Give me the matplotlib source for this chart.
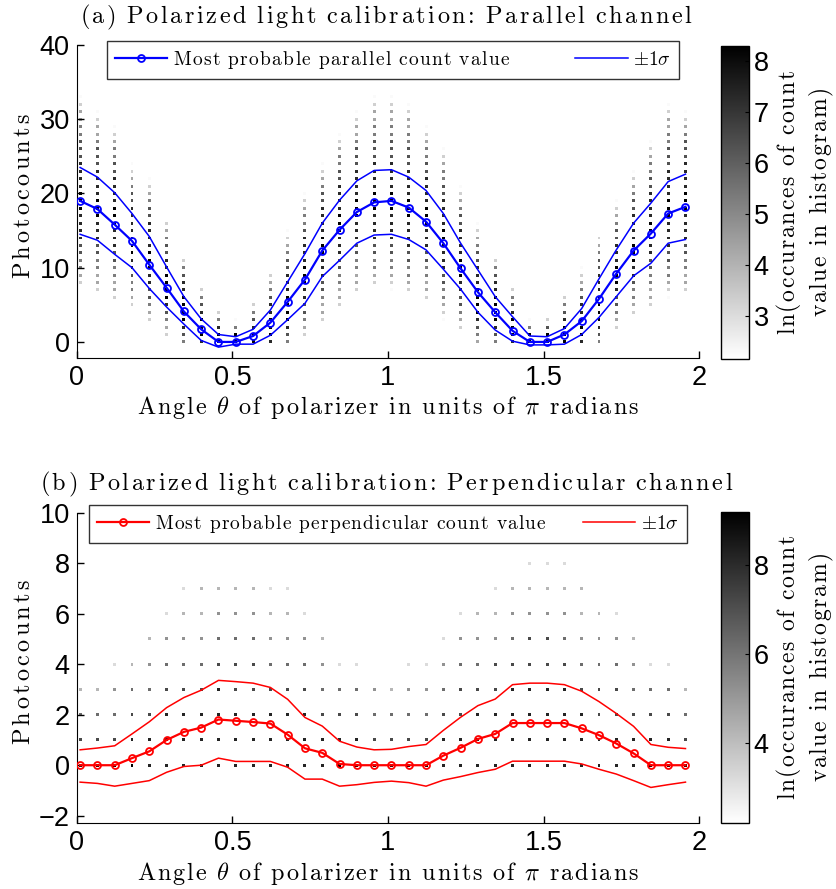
import numpy as np
import matplotlib
matplotlib.use("Agg")
import matplotlib.pyplot as plt

plt.rcParams['mathtext.fontset'] = 'cm'
plt.rcParams['font.family'] = ['Liberation Sans', 'DejaVu Sans']

#####################################################################
# data
angle_deg = [2, 12, 22, 32, 42, 52, 62, 72, 82, 92, 102, 112,
             122, 132, 142, 152, 162, 172, 182, 192, 202, 212, 222, 232,
             242, 252, 262, 272, 282, 292, 302, 312, 322, 332, 342, 352]

par_mode = [19.0, 17.9, 15.8, 13.6, 10.4, 7.3, 4.1, 1.7, 0.0, 0.0, 0.8, 2.6,
            5.4, 8.4, 12.3, 15.1, 17.5, 18.8, 19.0, 18.1, 16.2, 13.3, 9.9, 6.7,
            4.0, 1.5, 0.0, 0.0, 1.0, 2.8, 5.8, 9.2, 12.3, 14.6, 17.3, 18.2]
par_upper = [23.5, 22.2, 20.1, 17.3, 14.2, 10.1, 6.1, 3.1, 1.0, 0.7, 1.7, 4.3,
             8.1, 11.9, 16.0, 19.1, 21.7, 23.1, 23.2, 22.2, 20.4, 17.3, 13.3, 9.7,
             6.1, 3.4, 0.8, 0.7, 1.8, 4.5, 8.5, 12.4, 16.0, 18.7, 21.6, 22.6]
par_lower = [14.5, 13.7, 11.8, 10.0, 7.2, 4.7, 2.4, 0.2, -0.7, -0.3, -0.3, 0.9,
             3.0, 5.2, 8.8, 11.0, 13.3, 14.4, 14.5, 13.8, 12.4, 9.8, 7.1, 4.0,
             1.6, 0.1, -0.4, -0.4, -0.3, 1.0, 3.3, 6.1, 8.9, 10.6, 13.3, 13.8]

perp_mode = [0, 0, 0, 0.28, 0.55, 1.0, 1.32, 1.49, 1.81, 1.76, 1.71, 1.65,
             1.21, 0.67, 0.49, 0.05, 0, 0, 0, 0, 0, 0.38, 0.69, 1.04,
             1.24, 1.67, 1.67, 1.67, 1.67, 1.46, 1.19, 0.86, 0.47, 0, 0, 0]
perp_upper = [0.61, 0.68, 0.77, 1.24, 1.72, 2.28, 2.68, 2.97, 3.36, 3.31, 3.25, 3.08,
              2.61, 1.89, 1.55, 0.95, 0.72, 0.61, 0.63, 0.74, 0.82, 1.38, 1.9, 2.36,
              2.62, 3.19, 3.25, 3.25, 3.19, 2.93, 2.52, 2.05, 1.54, 0.82, 0.71, 0.66]
perp_lower = [-0.67, -0.72, -0.83, -0.72, -0.61, -0.28, -0.05, 0.0, 0.28, 0.15, 0.15, 0.15,
              -0.08, -0.55, -0.55, -0.83, -0.77, -0.68, -0.63, -0.69, -0.83, -0.59, -0.45, -0.29,
              -0.16, 0.16, 0.16, 0.16, 0.16, 0.05, -0.16, -0.35, -0.61, -0.88, -0.77, -0.67]

# histogram cells: lowest count per angle and ln(occurrences) digits going up
par_lo = [8, 7, 6, 5, 3, 1, 0, 0, 0, 0, 0, 0,
          0, 1, 3, 5, 7, 8, 7, 7, 6, 3, 2, 0,
          0, 0, 0, 0, 0, 0, 0, 2, 4, 5, 6, 7]
par_hist = ["34556677778887777666554432", "3445566777888777766654432",
            "344556677788877776655432", "34556778887777665432",
            "34566778887777665432", "3456788887766543",
            "567888877653", "78887653", "88753", "8852", "887653",
            "7888776543", "5678888777665432", "34566778887777655432",
            "3445667778887777665432", "344556677788877776655432",
            "3445566777888777766654432", "34556677778887777666554432",
            "234556677778887777666554432", "34556677778887777666554432",
            "344556677788877776655432", "234556677788877776655432",
            "34566778887777665432", "45678888777665432",
            "567888877653", "78887653", "8852", "8863", "8887653",
            "78887765432", "567888877766543", "345667888777665432",
            "34556778887777665432", "34455667788877776655432",
            "234556677778887777666554432", "3445566777788877776665432"]

perp_hist = ["9764", "9764", "97653", "98764", "887654", "8887653",
             "88876543", "88876544", "88887654", "88877654", "88877654", "88876543",
             "88876543", "8887653", "887654", "98763", "98763", "97652",
             "9764", "97653", "97653", "887653", "8877653", "8887654",
             "88877543", "88887654", "888877543", "888877543", "888876543", "88876544",
             "8877654", "8877653", "887654", "98763", "98763", "9764"]

angle = np.array(angle_deg) / 180.0

#####################################################################
tick_fs = 19.5
lab_fs = 17.5

# LaTeX-ish spaced lettering, done with mathtext kerns
def tracked(s, t=0.1, ws=0.5):
    toks = []
    i = 0
    while i < len(s):
        if s[i] == '$':
            j = s.index('$', i + 1)
            toks.append(s[i + 1:j])
            i = j + 1
        elif s[i] == ' ':
            toks.append(None)
            i += 1
        elif s[i] == ':':
            # mathtext pads ':' like a relation, take that back
            toks.append(r'\hspace{-0.2}\mathrm{:}\hspace{-0.2}')
            i += 1
        else:
            toks.append(r'\mathrm{%s}' % s[i])
            i += 1
    out = []
    for k, tok in enumerate(toks):
        if tok is None:
            out.append(r'\hspace{%g}' % ws)
            continue
        if k > 0 and toks[k - 1] is not None:
            out.append(r'\hspace{%g}' % t)
        out.append(tok)
    return '$' + ''.join(out) + '$'

def draw_hist(ax, lows, cells, offset, vmin, vmax):
    xs, ys, cs = [], [], []
    for a, lo, s in zip(angle, lows, cells):
        for k, ch in enumerate(s):
            xs.append(a)
            ys.append(lo + k)
            cs.append(int(ch) + offset)
    return ax.scatter(xs, ys, c=cs, cmap='gray_r', vmin=vmin, vmax=vmax,
                      marker='s', s=4.5, linewidths=0, zorder=1)

def style_axes(ax, ylim, yticks):
    ax.set_xlim(0, 2)
    ax.set_ylim(*ylim)
    ax.set_xticks([0, 0.5, 1, 1.5, 2])
    ax.set_xticklabels(['0', '0.5', '1', '1.5', '2'])
    ax.set_yticks(yticks)
    ax.spines['top'].set_visible(False)
    ax.spines['right'].set_visible(False)
    ax.tick_params(direction='in', length=5, width=1, labelsize=tick_fs, pad=5)

leg_kw = dict(mode='expand', ncol=2, fontsize=14, handlelength=2.7, handletextpad=0.3,
              frameon=True, fancybox=False, edgecolor='k', borderaxespad=0, columnspacing=1.5)

fig = plt.figure(figsize=(8.36, 8.89), dpi=100)

# ----- top panel
ax1 = fig.add_axes([0.0917, 0.597, 0.7448, 0.3524])
sc1 = draw_hist(ax1, par_lo, par_hist, 0.3, 2.16, 8.3)
l1, = ax1.plot(angle, par_mode, '-o', color='b', lw=1.6, ms=5, mfc='none', mew=1.3, zorder=3,
               label=tracked('Most probable parallel count value', 0.08, 0.45))
l2, = ax1.plot(angle, par_upper, '-', color='b', lw=1.1, zorder=2, label=r'$\pm1\sigma$')
ax1.plot(angle, par_lower, '-', color='b', lw=1.1, zorder=2)
style_axes(ax1, (-2.2, 40), [0, 10, 20, 30, 40])
leg1 = ax1.legend(handles=[l1, l2], loc='lower left',
                  bbox_to_anchor=(0.0487, 0.8915, 0.9187, 0.0955), **leg_kw)
leg1.get_frame().set_linewidth(1.0)

cax1 = fig.add_axes([0.8624, 0.5962, 0.0335, 0.3521])
cb1 = fig.colorbar(sc1, cax=cax1, ticks=[3, 4, 5, 6, 7, 8])
cb1.ax.tick_params(direction='in', length=3, labelsize=tick_fs)
cb1.outline.set_linewidth(1.0)

# ----- bottom panel
ax2 = fig.add_axes([0.0917, 0.0739, 0.7448, 0.3494])
sc2 = draw_hist(ax2, [0] * 36, perp_hist, 0.2, 2.2, 9.2)
m1, = ax2.plot(angle, perp_mode, '-o', color='r', lw=1.6, ms=5, mfc='none', mew=1.3, zorder=3,
               label=tracked('Most probable perpendicular count value', 0.07, 0.45))
m2, = ax2.plot(angle, perp_upper, '-', color='r', lw=1.1, zorder=2, label=r'$\pm1\sigma$')
ax2.plot(angle, perp_lower, '-', color='r', lw=1.1, zorder=2)
style_axes(ax2, (-2.3, 10), [-2, 0, 2, 4, 6, 8, 10])
leg2 = ax2.legend(handles=[m1, m2], loc='lower left',
                  bbox_to_anchor=(0.0198, 0.9025, 0.9602, 0.1005), **leg_kw)
leg2.get_frame().set_linewidth(1.0)

cax2 = fig.add_axes([0.8624, 0.0739, 0.0335, 0.3505])
cb2 = fig.colorbar(sc2, cax=cax2, ticks=[4, 6, 8])
cb2.ax.tick_params(direction='in', length=3, labelsize=tick_fs)
cb2.outline.set_linewidth(1.0)

#####################################################################
# titles and labels
fig.text(0.462, 0.9741, tracked('(a) Polarized light calibration: Parallel channel', 0.12),
         size=lab_fs, ha='center', va='baseline')
fig.text(0.462, 0.4483, tracked('(b) Polarized light calibration: Perpendicular channel', 0.12),
         size=lab_fs, ha='center', va='baseline')

xlab = tracked(r'Angle $\theta$ of polarizer in units of $\pi$ radians', 0.09)
fig.text(0.4645, 0.5343, xlab, size=lab_fs, ha='center', va='baseline')
fig.text(0.4645, 0.0101, xlab, size=lab_fs, ha='center', va='baseline')

ylab = tracked('Photocounts', 0.15)
fig.text(0.0287, 0.7795, ylab, size=lab_fs, rotation=90, ha='center', va='center')
fig.text(0.0287, 0.2553, ylab, size=lab_fs, rotation=90, ha='center', va='center')

cblab = tracked('ln(occurances of count', 0.08) + '\n' + tracked('value in histogram)', 0.08)
fig.text(0.963, 0.7728, cblab, size=17, rotation=90, ha='center', va='center',
         linespacing=1.25, multialignment='center')
fig.text(0.963, 0.249, cblab, size=17, rotation=90, ha='center', va='center',
         linespacing=1.25, multialignment='center')

fig.savefig('out.png', dpi=100)
